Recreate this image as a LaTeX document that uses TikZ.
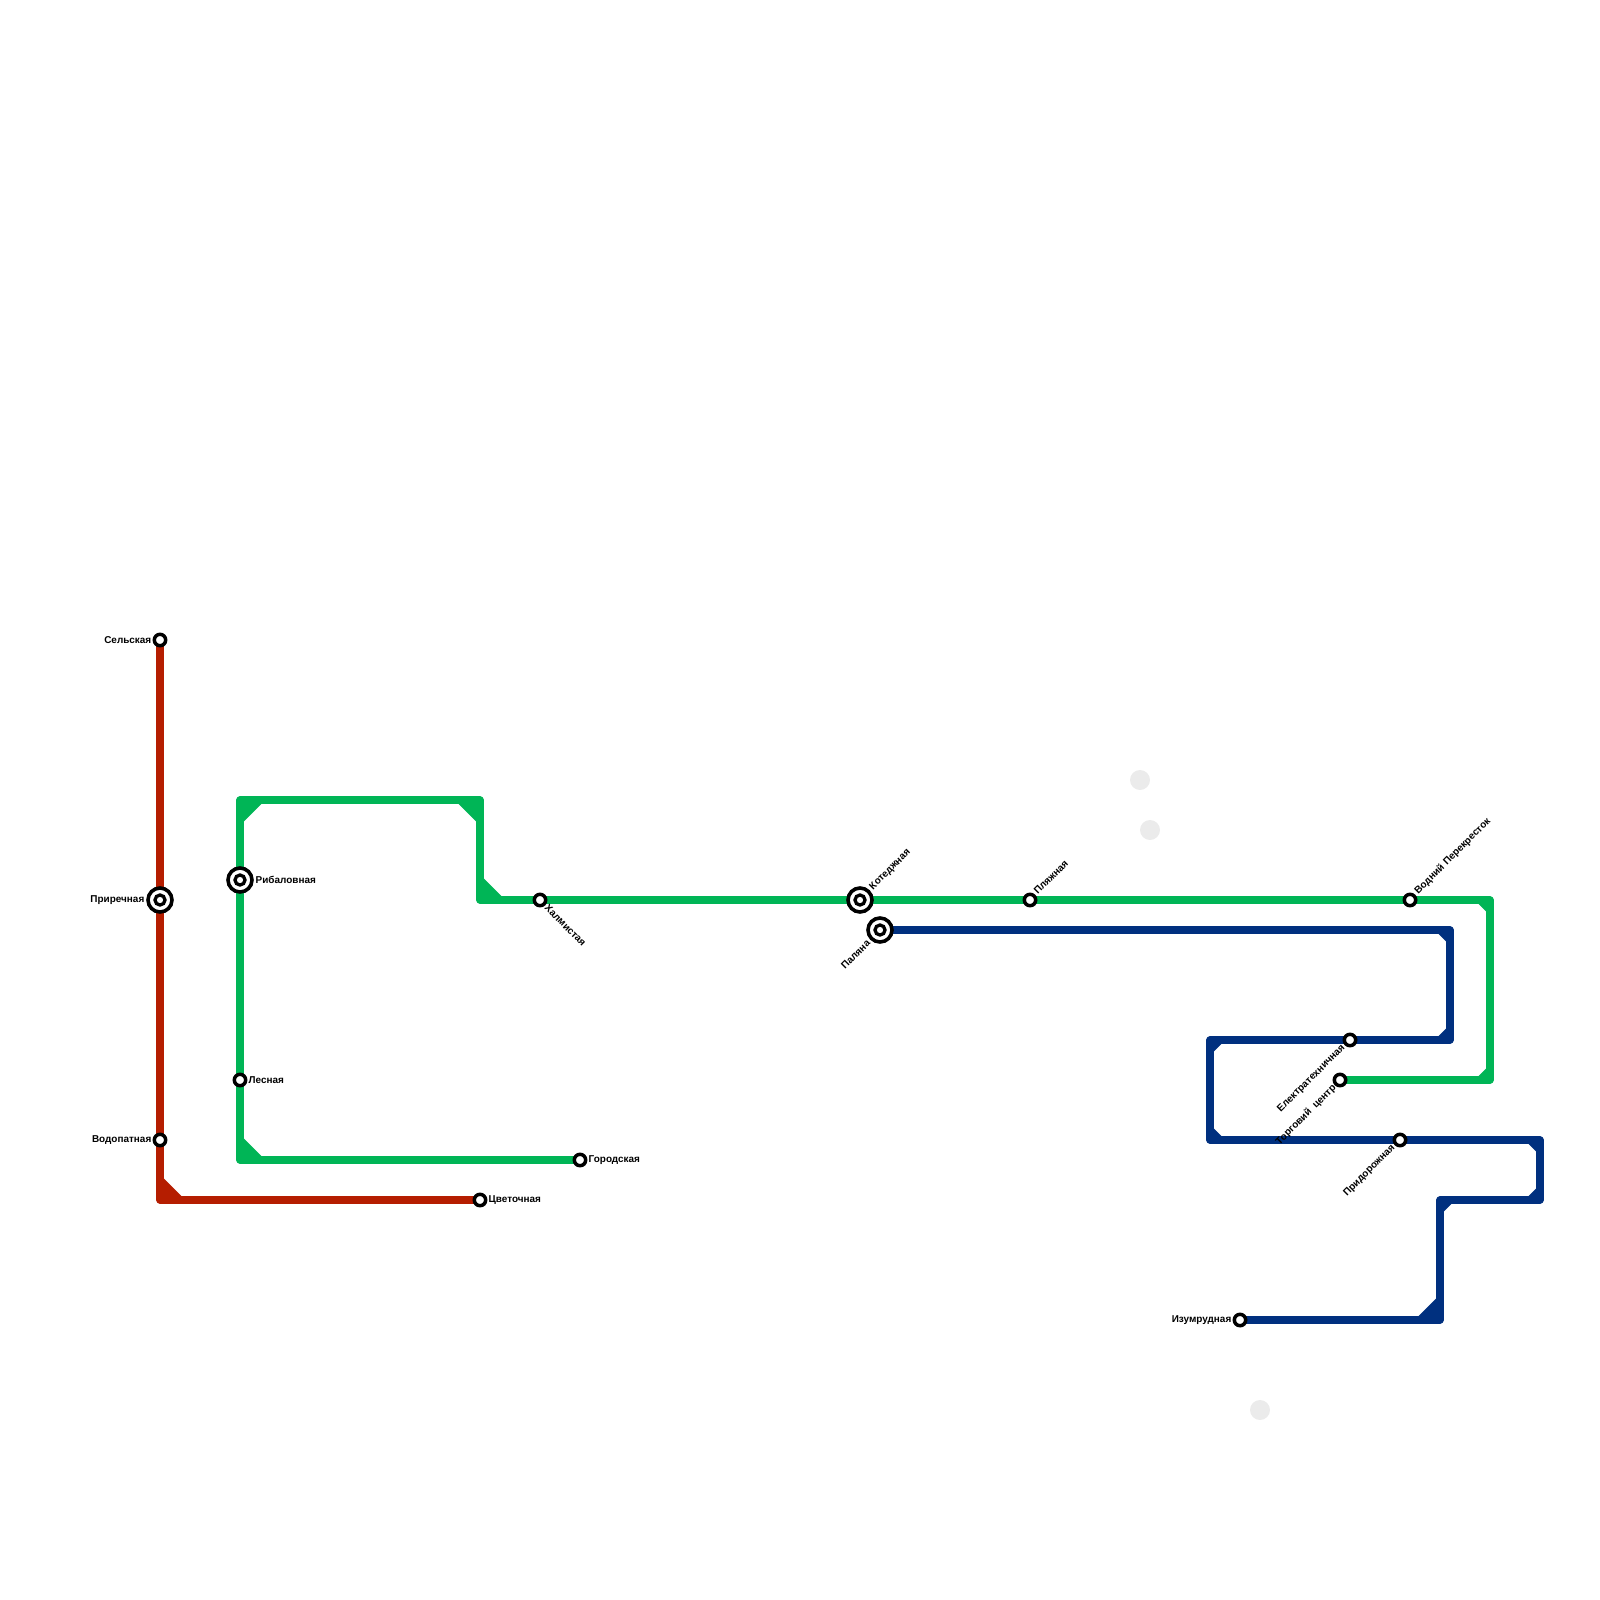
\documentclass[tikz,border=0pt]{standalone}
\usepackage{fontspec}
\setmainfont{Liberation Sans}
\definecolor{linered}{HTML}{B51D00}
\definecolor{linegreen}{HTML}{00B556}
\definecolor{lineblue}{HTML}{00307F}
\definecolor{ghostgray}{HTML}{EBEBEB}
\usetikzlibrary{positioning,backgrounds}
\tikzset{
  redline/.style={draw=linered,line width=0.72mm,line join=round},
  greenline/.style={draw=linegreen,line width=0.72mm,line join=round},
  blueline/.style={draw=lineblue,line width=0.72mm,line join=round},
  stn/.style={circle,draw=black,fill=white,line width=0.35mm,inner sep=0pt,minimum size=1.14mm},
  xstn/.style={circle,draw=black,fill=white,line width=0.36mm,inner sep=0pt,minimum size=2.4mm},
  xinner/.style={circle,draw=black,fill=white,line width=0.33mm,inner sep=0pt,minimum size=1mm},
  stlabel/.style={inner sep=0pt,font=\fontsize{2.83}{3}\selectfont\bfseries,text=black},
  ghost/.style={circle,fill=ghostgray,inner sep=0pt,minimum size=2mm}
}
\begin{document}
\begin{tikzpicture}[x=1mm,y=-1mm]
  \useasboundingbox (0,0) rectangle (160,160);
  % faint circles
  \node[ghost] (ghosta) at (114,78) {};
  \node[ghost] (ghostb) at (115,83) {};
  \node[ghost] (ghostc) at (126,141) {};
  % stations of the red line
  \node[xstn] (prirechnaya) at (16,90) {};
  \node[stn] (selskaya) at (16,64) {};
  \node[stn] (vodopatnaya) at (16,114) {};
  \node[stn] (cvetochnaya) at (48,120) {};
  \coordinate (redcorner) at (16,120);
  % stations of the green line
  \node[xstn] (ribalovnaya) at (24,88) {};
  \node[stn] (lesnaya) at (24,108) {};
  \node[stn] (gorodskaya) at (58,116) {};
  \node[stn] (halmistaya) at (54,90) {};
  \node[xstn] (kotedzhnaya) at (86,90) {};
  \node[stn] (plyazhnaya) at (103,90) {};
  \node[stn] (vodniy) at (141,90) {};
  \node[stn] (torgoviy) at (134,108) {};
  \coordinate (greenbottom) at (24,116);
  \coordinate (greenlefttop) at (24,80);
  \coordinate (greenrighttop) at (48,80);
  \coordinate (greenmid) at (48,90);
  \coordinate (greenendtop) at (149,90);
  \coordinate (greenendbot) at (149,108);
  % stations of the blue line
  \node[xstn] (palyana) at (88,93) {};
  \node[stn] (elektro) at (135,104) {};
  \node[stn] (pridorozhnaya) at (140,114) {};
  \node[stn] (izumrudnaya) at (124,132) {};
  \coordinate (bluea) at (145,93);
  \coordinate (blueb) at (145,104);
  \coordinate (bluec) at (121,104);
  \coordinate (blued) at (121,114);
  \coordinate (bluee) at (154,114);
  \coordinate (bluef) at (154,120);
  \coordinate (blueg) at (144,120);
  \coordinate (blueh) at (144,132);
  \begin{scope}[on background layer]
    % the three lines
    \draw[redline] (selskaya.center) -- (vodopatnaya.center) -- (redcorner) -- (cvetochnaya.center);
    \draw[greenline] (gorodskaya.center) -- (greenbottom) -- (greenlefttop) -- (greenrighttop) -- (greenmid) -- (greenendtop) -- (greenendbot) -- (torgoviy.center);
    \draw[blueline] (palyana.center) -- (bluea) -- (blueb) -- (bluec) -- (blued) -- (bluee) -- (bluef) -- (blueg) -- (blueh) -- (izumrudnaya.center);
    % corner wedges, large
    \fill[linered] (redcorner) -- +(0.36,-2.17) -- +(2.17,-0.36) -- cycle;
    \fill[linegreen] (greenbottom) -- +(0.36,-2.17) -- +(2.17,-0.36) -- cycle;
    \fill[linegreen] (greenlefttop) -- +(0.36,2.17) -- +(2.17,0.36) -- cycle;
    \fill[linegreen] (greenrighttop) -- +(-0.36,2.17) -- +(-2.17,0.36) -- cycle;
    \fill[linegreen] (greenmid) -- +(0.36,-2.17) -- +(2.17,-0.36) -- cycle;
    \fill[lineblue] (blueh) -- +(-0.36,-2.17) -- +(-2.17,-0.36) -- cycle;
    % corner wedges, small
    \fill[linegreen] (greenendtop) -- +(-0.36,1.17) -- +(-1.17,0.36) -- cycle;
    \fill[linegreen] (greenendbot) -- +(-0.36,-1.17) -- +(-1.17,-0.36) -- cycle;
    \fill[lineblue] (bluea) -- +(-0.36,1.17) -- +(-1.17,0.36) -- cycle;
    \fill[lineblue] (blueb) -- +(-0.36,-1.17) -- +(-1.17,-0.36) -- cycle;
    \fill[lineblue] (bluec) -- +(0.36,1.17) -- +(1.17,0.36) -- cycle;
    \fill[lineblue] (blued) -- +(0.36,-1.17) -- +(1.17,-0.36) -- cycle;
    \fill[lineblue] (bluee) -- +(-0.36,1.17) -- +(-1.17,0.36) -- cycle;
    \fill[lineblue] (bluef) -- +(-0.36,-1.17) -- +(-1.17,-0.36) -- cycle;
    \fill[lineblue] (blueg) -- +(0.36,1.17) -- +(1.17,0.36) -- cycle;
  \end{scope}
  % inner rings of the interchanges
  \node[xinner] (prirechnayain) at (prirechnaya) {};
  \node[xinner] (ribalovnayain) at (ribalovnaya) {};
  \node[xinner] (kotedzhnayain) at (kotedzhnaya) {};
  \node[xinner] (palyanain) at (palyana) {};
  % labels
  \node[stlabel,anchor=east] (selskayalabel) at (15.2,64) {Сельская};
  \node[stlabel,anchor=east] (prirechnayalabel) at (14.5,90) {Приречная};
  \node[stlabel,anchor=east] (vodopatnayalabel) at (15.2,114) {Водопатная};
  \node[stlabel,anchor=west] (cvetochnayalabel) at (48.8,120) {Цветочная};
  \node[stlabel,anchor=west] (ribalovnayalabel) at (25.5,88) {Рибаловная};
  \node[stlabel,anchor=west] (lesnayalabel) at (24.8,108) {Лесная};
  \node[stlabel,anchor=west] (gorodskayalabel) at (58.8,116) {Городская};
  \node[stlabel,anchor=west,rotate=-45] (halmistayalabel) at (54.6,90.6) {Халмистая};
  \node[stlabel,anchor=west,rotate=45] (kotedzhnayalabel) at (87.1,88.9) {Котеджная};
  \node[stlabel,anchor=west,rotate=45] (plyazhnayalabel) at (103.5,89.3) {Пляжная};
  \node[stlabel,anchor=west,rotate=45] (vodniylabel) at (141.6,89.3) {Водний Перекресток};
  \node[stlabel,anchor=east,rotate=45] (palyanalabel) at (86.9,94.1) {Паляна};
  \node[stlabel,anchor=east,rotate=45] (elektrolabel) at (134.4,104.6) {Електратехничная};
  \node[stlabel,anchor=east,rotate=45] (torgoviylabel) at (133.5,108.6) {Торговий\ \ центр};
  \node[stlabel,anchor=east,rotate=45] (pridorozhnayalabel) at (139.4,114.6) {Придорожная};
  \node[stlabel,anchor=east] (izumrudnayalabel) at (123.2,132) {Изумрудная};
\end{tikzpicture}
\end{document}
